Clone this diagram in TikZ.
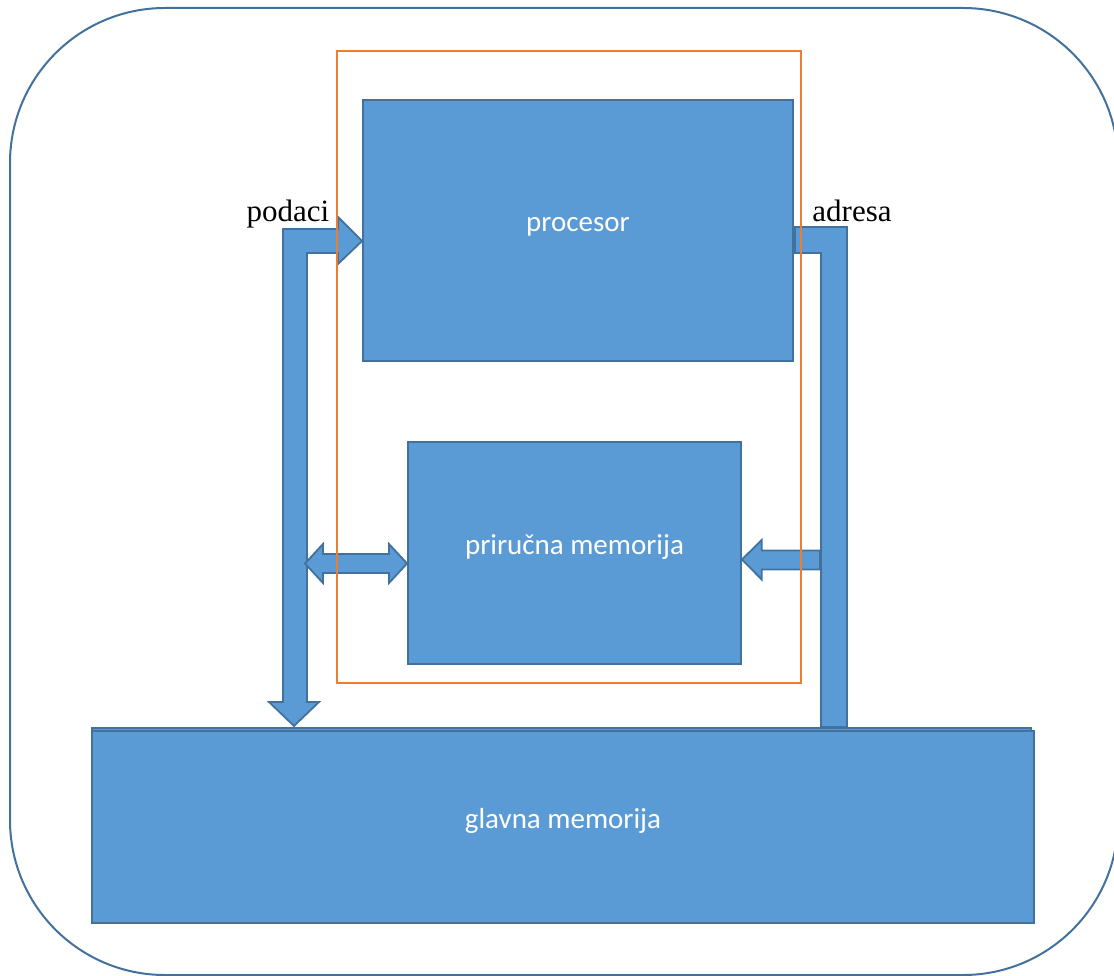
\documentclass[tikz,border=0pt]{standalone}
\usepackage{fontspec}
\setmainfont{Liberation Serif}
\newfontfamily\carlito{Carlito}
\usetikzlibrary{calc}
\definecolor{boxfill}{HTML}{5B9BD5}
\definecolor{boxline}{HTML}{41719C}
\definecolor{frameor}{HTML}{ED7D31}
\begin{document}
\begin{tikzpicture}[x=1pt,y=-1pt,
  blk/.style={draw=boxline,fill=boxfill,line width=1.8pt,line join=miter},
  blkbox/.style={blk,rectangle,inner sep=0pt,minimum width=#1},
  boxtxt/.style={text=white,font=\carlito\fontsize{29}{34}\selectfont,inner sep=0pt,anchor=base},
  lbl/.style={font=\fontsize{31}{36}\selectfont,inner sep=0pt,anchor=base},
  chipframe/.style={draw=frameor,line width=1.3pt}]
\useasboundingbox (0,0) rectangle (1114,976);
\clip (0,0) rectangle (1114,976);
% outer rounded frame
\draw[draw=boxline,line width=2pt,rounded corners=155pt] (10,8) rectangle (1118,975);
% main memory (double edge)
\node[blkbox=939pt,minimum height=192pt] (gstrip) at (561.5,824) {};
\node[blkbox=942pt,minimum height=192pt] (glavna) at (563,827) {};
% processor and cache
\node[blkbox=430pt,minimum height=261pt] (proc) at (578,230.5) {};
\node[blkbox=333pt,minimum height=222pt] (cache) at (574.5,553) {};
% named points for the block arrows
\coordinate (ptip) at ($(proc.west)+(0,10.5)$);
\coordinate (gtip) at (294,726);
\coordinate (ctipL) at ($(cache.west)+(0,10.5)$);
\coordinate (ctipR) at ($(cache.east)+(0,6.5)$);
% podaci bent arrow
\draw[blk] (gtip) -- (319,702) -- (307,702) -- (307,253) -- (338,253) -- (338,264)
  -- (ptip) -- (338,217) -- (338,229) -- (283,229) -- (283,702) -- (269,702) -- cycle;
% double arrow to cache
\draw[blk] (305,563.5) -- (323,544) -- (323,554) -- (389,554) -- (389,544)
  -- (ctipL) -- (389,583) -- (389,573) -- (323,573) -- (323,583) -- cycle;
% adresa elbow
\draw[blk] (795,227) -- (847,227) -- (847,727) -- (821,727) -- (821,253) -- (795,253) -- cycle;
% address arrow into cache
\draw[blk] (ctipR) -- (761.7,540) -- (761.7,550.5) -- (820,550.5) -- (820,569.5)
  -- (761.7,569.5) -- (761.7,579.5) -- cycle;
% orange frame
\node[chipframe,rectangle,inner sep=0pt,minimum width=464pt,minimum height=632pt] (chip) at (569,367) {};
% texts
\node[boxtxt] (tproc) at ($(proc.center)+(0,1.5)$) {procesor};
\node[boxtxt] (tcache) at ($(cache.center)+(0,1)$) {priručna memorija};
\node[boxtxt] (tglav) at ($(glavna.center)+(0,1.5)$) {glavna memorija};
\node[lbl] (tpod) at (288,222) {podaci};
\node[lbl] (tadr) at (852,222) {adresa};
\end{tikzpicture}
\end{document}
